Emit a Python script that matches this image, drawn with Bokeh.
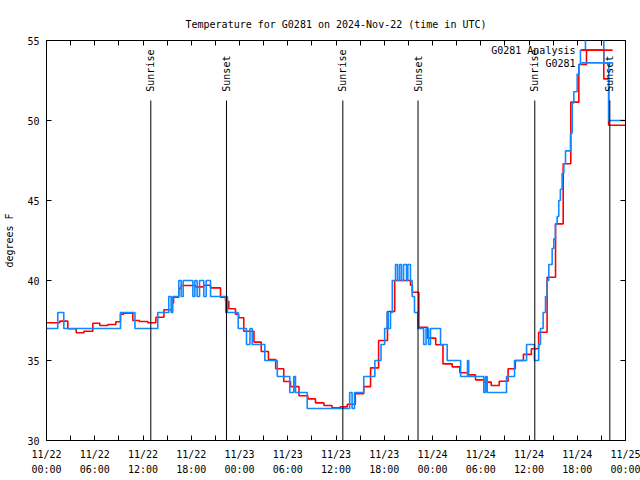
import math
from bokeh.plotting import figure
from bokeh.models import (Range1d, LinearAxis, FixedTicker, Label, Arrow, ColumnDataSource,
                          CustomLabelingPolicy)
from bokeh.core.properties import value
from bokeh.embed import file_html
from bokeh.resources import INLINE

FONT = "DejaVu Sans Mono"

# ---- data (hours since 2024-11-22 00:00 UTC) ----
analysis_hours = [0, 1.65, 2.65, 3.7, 4.64, 5.76, 6.63, 7.62, 8.62, 9.2, 9.6, 10.73, 11.56, 12.6,
                  13.6, 14.6, 15.63, 15.8, 16.45, 16.75, 18.53, 19.56, 20.4, 21.64, 22.26, 22.67,
                  23.5, 23.9, 24.53, 25.8, 26.7, 27.6, 28.5, 29.5, 30.34, 31.4, 32.5, 33.45, 34.5,
                  35.5, 36.5, 37.4, 38.4, 39.45, 40.3, 41.3, 42.4, 43.3, 45.26, 45.5, 46.3, 47.4,
                  48.4, 49.3, 50.45, 51.4, 52.4, 53.35, 54.4, 55.3, 56.3, 57.4, 58.3, 59.3, 60.3,
                  61.2, 62.25, 63.3, 64.25, 65.2, 66.2, 67.15, 69.3, 69.9, 72]
analysis_temp = [37.36, 37.46, 36.98, 36.73, 36.83, 37.33, 37.19, 37.25, 37.42, 37.9, 37.96, 37.5,
                 37.44, 37.36, 37.7, 38.17, 38.6, 38.96, 39.5, 39.69, 39.6, 39.7, 39.54, 38.96,
                 38.7, 38.23, 37.9, 37.67, 36.83, 36.15, 35.56, 35.06, 34.48, 33.69, 33.37, 32.8,
                 32.6, 32.35, 32.19, 32.04, 32.1, 32.27, 32.92, 33.37, 34.54, 36.25, 38.06, 40.0,
                 39.7, 39.27, 37.08, 36.4, 35.98, 34.79, 34.6, 34.23, 34.1, 33.79, 33.65, 33.44,
                 33.7, 34.48, 35.0, 35.38, 35.73, 36.77, 40.2, 43.54, 47.3, 51.15, 53.5, 54.4,
                 52.6, 49.7, 49.7]

obs_hours = [0, 1.4, 2.15, 9.2, 11.0, 13.84, 15.2, 15.5, 15.7, 16.45, 16.75, 17.0, 18.2, 18.45,
             18.73, 19.03, 19.56, 19.86, 20.4, 22.3, 22.4, 22.5, 23.84, 24.87, 25.3, 25.58, 27.15,
             28.7, 30.25, 30.75, 30.96, 32.42, 37.7, 38.0, 38.3, 39.45, 40.83, 41.6, 42.05, 42.36,
             42.5, 42.78, 43.0, 43.4, 43.65, 43.9, 44.14, 44.4, 44.77, 44.93, 45.26, 45.47, 45.76,
             46.17, 46.9, 47.2, 47.5, 47.75, 49.0, 49.83, 51.5, 52.35, 52.5, 54.38, 54.6, 54.8,
             57.2, 58.2, 59.7, 60.68, 61.2, 61.43, 61.76, 62.05, 62.26, 62.46, 62.88, 63.08,
             63.29, 63.5, 63.7, 63.9, 64.12, 64.33, 64.54, 65.16, 65.37, 65.57, 65.99, 66.2,
             66.4, 67.02, 69.3, 69.92, 72]
obs_temp = [37, 38, 37, 38, 37, 38, 39, 38, 39, 40, 39, 40, 39, 40, 39, 40, 39, 40, 39, 38, 39, 38,
            37, 36, 37, 36, 35, 34, 33, 34, 33, 32, 33, 32, 33, 34, 35, 36, 37, 38, 37, 38, 40,
            41, 40, 41, 40, 41, 40, 41, 40, 39, 38, 37, 36, 37, 36, 37, 36, 35, 34, 35, 34, 33,
            34, 33, 34, 35, 36, 35, 36, 37, 38, 39, 40, 41, 42, 42.6, 43.5, 44, 45, 45.7, 46.7,
            47.3, 48.1, 49.2, 51.1, 51.8, 52.9, 53.5, 54.4, 56, 53.6, 50.0, 50.0]

sun_hours = [12.97, 22.38, 36.85, 46.2, 60.72, 70.05]
sun_labels = ["Sunrise", "Sunset", "Sunrise", "Sunset", "Sunrise", "Sunset"]

tick_hours = [0, 6, 12, 18, 24, 30, 36, 42, 48, 54, 60, 66, 72]
tick_labels = ["11/22\n00:00", "11/22\n06:00", "11/22\n12:00", "11/22\n18:00",
               "11/23\n00:00", "11/23\n06:00", "11/23\n12:00", "11/23\n18:00",
               "11/24\n00:00", "11/24\n06:00", "11/24\n12:00", "11/24\n18:00",
               "11/25\n00:00"]
minor_hours = [3, 9, 15, 21, 27, 33, 39, 45, 51, 57, 63, 69]
y_ticks = [30, 35, 40, 45, 50, 55]

RED = "#ff0000"
BLUE = "#1188ff"

p = figure(width=640, height=480, x_range=Range1d(0, 72), y_range=Range1d(30, 55),
           output_backend="svg", toolbar_location=None,
           min_border_left=46, min_border_right=15, min_border_top=40, min_border_bottom=40,
           title="Temperature for G0281 on 2024-Nov-22 (time in UTC)")
p.title.text_font = FONT
p.title.text_font_size = "10px"
p.title.text_font_style = "normal"
p.title.text_color = "black"
p.title.align = "center"
p.title.vertical_align = "top"
p.xgrid.visible = False
p.ygrid.visible = False
p.outline_line_color = "black"
p.outline_line_width = 1
p.background_fill_color = "white"
p.border_fill_color = "white"

xt = FixedTicker(ticks=tick_hours, minor_ticks=minor_hours)
yt = FixedTicker(ticks=y_ticks)

xa = p.xaxis[0]
xa.ticker = xt
xa.major_label_overrides = {h: lab for h, lab in zip(tick_hours, tick_labels)}
ya = p.yaxis[0]
ya.ticker = yt
ya.axis_label = "degrees F"

for ax in (xa, ya):
    ax.axis_line_color = None
    ax.major_tick_in = 5
    ax.major_tick_out = 0
    ax.minor_tick_in = 5
    ax.minor_tick_out = 0
    ax.major_tick_line_color = "black"
    ax.minor_tick_line_color = "black"
    ax.major_label_text_font = FONT
    ax.major_label_text_font_size = "10px"
    ax.major_label_text_color = "black"
    ax.axis_label_text_font = FONT
    ax.axis_label_text_font_size = "10px"
    ax.axis_label_text_font_style = "normal"
    ax.axis_label_text_color = "black"
ya.minor_tick_line_color = None
xa.major_label_standoff = 8
xa.major_label_text_line_height = 1.4
ya.major_label_standoff = 7
ya.axis_label_standoff = 9

hide_all = "for (const i of indices) indices.unset(i)"
top = LinearAxis(ticker=xt, axis_line_color=None, major_tick_in=5, major_tick_out=0,
                 minor_tick_in=5, minor_tick_out=0, major_label_text_font_size="1px",
                 major_label_standoff=0,
                 major_label_policy=CustomLabelingPolicy(code=hide_all))
right = LinearAxis(ticker=yt, axis_line_color=None, major_tick_in=5, major_tick_out=0,
                   minor_tick_line_color=None, major_label_text_font_size="1px",
                   major_label_standoff=0,
                   major_label_policy=CustomLabelingPolicy(code=hide_all))
p.add_layout(top, "above")
p.add_layout(right, "right")

src_a = ColumnDataSource(dict(h=analysis_hours, t=analysis_temp))
src_o = ColumnDataSource(dict(h=obs_hours, t=obs_temp))
p.step(x="h", y="t", source=src_a, mode="after", line_color=RED, line_width=1.6)
p.step(x="h", y="t", source=src_o, mode="after", line_color=BLUE, line_width=1.6)

src_s = ColumnDataSource(dict(x=sun_hours, lab=sun_labels))
p.segment(x0="x", y0=30, x1="x", y1=51.25, source=src_s, line_color="black", line_width=1)
p.text(x="x", y=51.8, text="lab", source=src_s, angle=math.pi / 2, text_align="left",
       text_baseline="middle", text_font=value(FONT), text_font_size="10px", text_color="black")

# legend (gnuplot style: text then sample)
p.add_layout(Label(x=65.78, y=54.375, text="G0281 Analysis", text_align="right",
                   text_baseline="middle", text_font=FONT, text_font_size="10px",
                   text_color="black"))
p.add_layout(Label(x=65.78, y=53.56, text="G0281", text_align="right",
                   text_baseline="middle", text_font=FONT, text_font_size="10px",
                   text_color="black"))
p.add_layout(Arrow(start=None, end=None, x_start=66.5, y_start=54.4, x_end=70.4, y_end=54.4,
                   line_color=RED, line_width=1.6))
p.add_layout(Arrow(start=None, end=None, x_start=66.5, y_start=53.6, x_end=70.4, y_end=53.6,
                   line_color=BLUE, line_width=1.6))

open("out.html", "w").write(file_html(p, INLINE))
